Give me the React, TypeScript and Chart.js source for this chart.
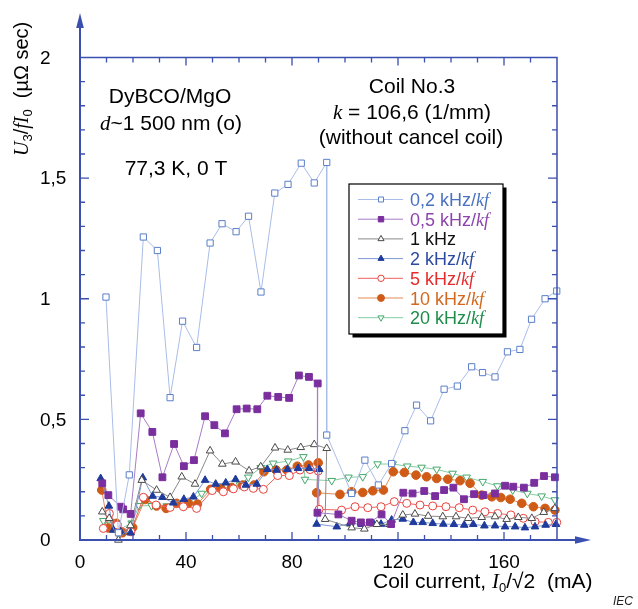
import React, { useEffect, useRef } from 'react';
import { Chart, registerables } from 'chart.js';
import { drawPoint } from 'chart.js/helpers';

Chart.register(...registerables);

// ---------------- data (x: coil current mA, y: U3/fI0 µΩ·s) ----------------
const s02kHz: [number, number][] = [
  [9.8, 1.007], [14.5, 0.03], [18.6, 0.27], [23.9, 1.256], [29.2, 1.2], [34, 0.59], [38.7, 0.907],
  [44, 0.798], [49.1, 1.231], [53.6, 1.311], [58.9, 1.278], [63.6, 1.342], [68.3, 1.028], [73.5, 1.438],
  [78.5, 1.474], [83.5, 1.562], [88.4, 1.48], [93.1, 1.565], [93.1, 0.435], [102.5, 0.193], [107.5, 0.331],
  [112.6, 0.228], [117.6, 0.317], [122.6, 0.453], [127, 0.559], [132.3, 0.494], [137.4, 0.625],
  [142.4, 0.638], [147.8, 0.718], [151.9, 0.694], [156.6, 0.676], [161.3, 0.78], [166, 0.79],
  [170.4, 0.915], [175.5, 1.0], [179.9, 1.032],
];
const s05kHz: [number, number][] = [
  [8.4, 0.235], [10.7, 0.186], [15.4, 0.138], [16.3, 0.127], [19.1, 0.108], [22.9, 0.525], [27.3, 0.448],
  [31.1, 0.26], [35.5, 0.398], [39.2, 0.306], [43, 0.331], [47.2, 0.513], [50.7, 0.476], [54.7, 0.442],
  [59.1, 0.542], [62.9, 0.545], [66.9, 0.542], [70.7, 0.598], [74.8, 0.593], [78.9, 0.589], [82.6, 0.682],
  [86.4, 0.676], [89.7, 0.649], [89.6, 0.113], [97.5, 0.106], [102.5, 0.08], [106, 0.073], [109.4, 0.073],
  [113.8, 0.106], [117.4, 0.066], [122, 0.196], [125.5, 0.193], [129.9, 0.203], [134, 0.182],
  [137.4, 0.207], [140.9, 0.217], [144.9, 0.169], [148.7, 0.19], [152.2, 0.186], [156.6, 0.193],
  [160.4, 0.225], [163.5, 0.221], [167.5, 0.217], [171.4, 0.237], [175.1, 0.265], [179.2, 0.26],
];
const s1kHz: [number, number][] = [
  [8.4, 0.117], [11, 0.09], [14.5, 0.0], [19, 0.06], [23.3, 0.248], [28.9, 0.207], [34, 0.177],
  [38.4, 0.262], [43.4, 0.232], [49.1, 0.37], [53.7, 0.315], [58.7, 0.324], [63.8, 0.287], [68.2, 0.304],
  [73.6, 0.382], [78.4, 0.373], [83.3, 0.384], [88.4, 0.396], [93.1, 0.38], [92.5, 0.086], [102.5, 0.051],
  [107.3, 0.046], [112, 0.065], [116.7, 0.065], [121.8, 0.104], [126.4, 0.108], [131.4, 0.099],
  [136.9, 0.097], [141.9, 0.097], [146.5, 0.09], [151.6, 0.094], [156.6, 0.097], [161, 0.086],
  [165.4, 0.094], [170.5, 0.09], [175, 0.115], [179.2, 0.131],
];
const s2kHz: [number, number][] = [
  [7.8, 0.255], [10.9, 0.141], [12.6, 0.041], [15.4, 0.034], [19.1, 0.03], [23.7, 0.258], [27.4, 0.182],
  [31.1, 0.177], [35.2, 0.154], [39.2, 0.169], [42.8, 0.179], [47.2, 0.248], [51.2, 0.232], [55, 0.237],
  [58.7, 0.251], [62.6, 0.228], [66.7, 0.232], [70.7, 0.293], [74.2, 0.29], [78.3, 0.293], [82.3, 0.297],
  [86.4, 0.297], [90.3, 0.293], [89.3, 0.066], [96.9, 0.055], [101.9, 0.069], [106.3, 0.065],
  [110.7, 0.069], [113.6, 0.066], [117.6, 0.083], [121.8, 0.087], [125.8, 0.073], [129.3, 0.073],
  [133.1, 0.069], [137.1, 0.066], [141.1, 0.065], [145, 0.062], [148.4, 0.065], [152.6, 0.059],
  [156.6, 0.059], [160.4, 0.055], [164.2, 0.055], [167.9, 0.051], [171.7, 0.055], [175.7, 0.062],
  [179.6, 0.065],
];
const s5kHz: [number, number][] = [
  [8.8, 0.048], [11.1, 0.11], [14.1, 0.062], [19.2, 0.034], [23.9, 0.177], [28.7, 0.145], [34, 0.135],
  [39, 0.138], [44, 0.131], [49.9, 0.205], [54.1, 0.2], [57.9, 0.212], [62, 0.22], [65.4, 0.214],
  [69.2, 0.21], [74.6, 0.267], [79, 0.267], [83, 0.29], [86.8, 0.292], [89.9, 0.286], [90.2, 0.127],
  [98.7, 0.124], [103.8, 0.138], [108.6, 0.134], [113.6, 0.138], [118.6, 0.159], [123.3, 0.152],
  [128.3, 0.145], [133.1, 0.141], [138.1, 0.138], [143.1, 0.134], [148.2, 0.124], [152.8, 0.117],
  [157.6, 0.11], [162.6, 0.104], [167.3, 0.09], [171.7, 0.076], [176.7, 0.073], [179.9, 0.073],
];
const s10kHz: [number, number][] = [
  [8.2, 0.207], [10.7, 0.05], [13.8, 0.069], [16, 0.03], [19.9, 0.052], [24.6, 0.168], [28.9, 0.141],
  [32.5, 0.131], [36.5, 0.152], [40.9, 0.152], [44.3, 0.149], [49.3, 0.21], [53.1, 0.214], [57.2, 0.218],
  [61.4, 0.228], [65.7, 0.228], [69.4, 0.283], [74, 0.29], [78, 0.29], [82, 0.306], [86.2, 0.311],
  [89.9, 0.32], [89.3, 0.196], [98.1, 0.189], [102.5, 0.2], [106.7, 0.197], [110.5, 0.204],
  [114.5, 0.207], [118.2, 0.283], [122.4, 0.28], [126.8, 0.269], [130.8, 0.262], [134.6, 0.255],
  [138.8, 0.252], [143.4, 0.246], [147.2, 0.235], [151.6, 0.186], [155.4, 0.179], [158.8, 0.176],
  [162.3, 0.169], [166.7, 0.152], [171.1, 0.138], [175.5, 0.131], [179.2, 0.124],
];
const s20kHz: [number, number][] = [
  [8.8, 0.08], [11.5, 0.065], [14.2, 0.04], [19.5, 0.07], [22.3, 0.142], [27, 0.142], [32.7, 0.141],
  [39, 0.138], [45.9, 0.193], [50.6, 0.21], [55.3, 0.224], [60.4, 0.228], [63.5, 0.26], [68.2, 0.3],
  [72.9, 0.318], [78.6, 0.327], [84.3, 0.345], [84.9, 0.251], [95, 0.246], [101.3, 0.26], [106.7, 0.262],
  [112.3, 0.315], [118, 0.315], [123.5, 0.306], [128.9, 0.301], [134.6, 0.293], [140.6, 0.276],
  [145.9, 0.26], [152, 0.242], [157.5, 0.224], [163.3, 0.207], [168.8, 0.193], [174.2, 0.182],
  [179.2, 0.166],
];

const seriesNames = ['0,2 kHz/', '0,5 kHz/', '1 kHz', '2 kHz/', '5 kHz/', '10 kHz/', '20 kHz/'];
const seriesSuffix = ['kf', 'kf', '', 'kf', 'kf', 'kf', 'kf'];

const xTickValues = [0, 40, 80, 120, 160];
const xTickLabels = ['0', '40', '80', '120', '160'];
const yTickValues = [0, 0.5, 1, 1.5, 2];
const yTickLabels = ['0', '0,5', '1', '1,5', '2'];

// ---------------- styles ----------------
const SANS = '"Liberation Sans", Arial, sans-serif';
const SERIF = '"Liberation Serif", "Times New Roman", serif';
const AXIS = '#3b4fae';

type Style = {
  line: string; border: string; fill: string; text: string;
  pointStyle: string; radius: number; rotation: number;
};
const styles: Style[] = [
  { line: '#a9bde9', border: '#5b7fc9', fill: '#ffffff', text: '#4a72c0', pointStyle: 'rect', radius: 4.4, rotation: 0 },
  { line: '#a77cc6', border: '#7b2f9e', fill: '#7b2f9e', text: '#8e44ad', pointStyle: 'rect', radius: 4.8, rotation: 0 },
  { line: '#8a8a8a', border: '#4a4a4a', fill: '#ffffff', text: '#111111', pointStyle: 'triangle', radius: 4.4, rotation: 0 },
  { line: '#7f98d6', border: '#1f3b9b', fill: '#1f3b9b', text: '#2c4aa0', pointStyle: 'triangle', radius: 4.4, rotation: 0 },
  { line: '#ef6060', border: '#e8413c', fill: '#ffffff', text: '#e52b2b', pointStyle: 'circle', radius: 4, rotation: 0 },
  { line: '#e08a55', border: '#cf5b17', fill: '#cf5b17', text: '#d2691e', pointStyle: 'circle', radius: 4.3, rotation: 0 },
  { line: '#86cca4', border: '#45a86c', fill: '#ffffff', text: '#1e8c4a', pointStyle: 'triangle', radius: 4.4, rotation: 180 },
];

const allSeries = [s02kHz, s05kHz, s1kHz, s2kHz, s5kHz, s10kHz, s20kHz];

type Seg = { t: string; f: string; dy?: number; c?: string };
function rich(ctx: CanvasRenderingContext2D, segs: Seg[], x: number, y: number, align: 'left' | 'center') {
  ctx.save();
  ctx.textBaseline = 'alphabetic';
  ctx.textAlign = 'left';
  let w = 0;
  for (const s of segs) { ctx.font = s.f; w += ctx.measureText(s.t).width; }
  let cx = align === 'center' ? x - w / 2 : x;
  for (const s of segs) {
    ctx.font = s.f;
    ctx.fillStyle = s.c || '#000';
    ctx.fillText(s.t, cx, y + (s.dy || 0));
    cx += ctx.measureText(s.t).width;
  }
  ctx.restore();
}

const decor = {
  id: 'decor',
  afterDraw(chart: any) {
    const ctx: CanvasRenderingContext2D = chart.ctx;
    const xs = chart.scales.x;
    const ys = chart.scales.y;
    const L = xs.getPixelForValue(0);
    const R = xs.getPixelForValue(180);
    const B = ys.getPixelForValue(0);
    const T = ys.getPixelForValue(2);
    ctx.save();
    ctx.strokeStyle = AXIS;
    ctx.fillStyle = AXIS;
    // top & right border
    ctx.lineWidth = 1.5;
    ctx.beginPath();
    ctx.moveTo(L, T); ctx.lineTo(R, T); ctx.lineTo(R, B);
    ctx.stroke();
    // main axes
    ctx.lineWidth = 2;
    ctx.beginPath();
    ctx.moveTo(L, 27); ctx.lineTo(L, B); ctx.lineTo(576, B);
    ctx.stroke();
    ctx.beginPath();
    ctx.moveTo(L, 13); ctx.lineTo(L - 3.8, 28); ctx.lineTo(L + 3.8, 28); ctx.closePath(); ctx.fill();
    ctx.beginPath();
    ctx.moveTo(591, B); ctx.lineTo(575, B - 3.8); ctx.lineTo(575, B + 3.8); ctx.closePath(); ctx.fill();
    // ticks
    ctx.lineWidth = 1.3;
    ctx.beginPath();
    for (let i = 1; i < 20; i++) {
      const v = i / 10;
      const py = ys.getPixelForValue(v);
      const len = i % 5 === 0 ? 9 : 5;
      ctx.moveTo(L, py); ctx.lineTo(L + len, py);
      ctx.moveTo(R, py); ctx.lineTo(R - len, py);
    }
    for (let v = 10; v < 180; v += 10) {
      const px = xs.getPixelForValue(v);
      const len = v % 40 === 0 ? 8 : 5;
      ctx.moveTo(px, B); ctx.lineTo(px, B - len);
      ctx.moveTo(px, T); ctx.lineTo(px, T + len);
    }
    ctx.stroke();
    ctx.restore();

    // tick labels
    ctx.save();
    ctx.fillStyle = '#000';
    ctx.font = `19px ${SANS}`;
    ctx.textAlign = 'left';
    ctx.textBaseline = 'middle';
    yTickValues.forEach((v, i) => {
      ctx.fillText(yTickLabels[i], 40, ys.getPixelForValue(v) + 1);
    });
    ctx.textAlign = 'center';
    ctx.textBaseline = 'alphabetic';
    xTickValues.forEach((v, i) => {
      ctx.fillText(xTickLabels[i], xs.getPixelForValue(v), 568);
    });
    ctx.restore();

    // axis titles
    const F20 = `20px ${SANS}`;
    const I20 = `italic 20px ${SERIF}`;
    const F21x = `21px ${SANS}`;
    const I21x = `italic 21px ${SERIF}`;
    const SUB = `13px ${SANS}`;
    rich(ctx, [
      { t: 'Coil current, ', f: F21x },
      { t: 'I', f: I21x },
      { t: '0', f: SUB, dy: 4 },
      { t: '/\u221A2  (mA)', f: F21x },
    ], 373, 588, 'left');

    ctx.save();
    ctx.translate(28, 156);
    ctx.rotate(-Math.PI / 2);
    rich(ctx, [
      { t: 'U', f: I20 },
      { t: '3', f: SUB, dy: 4 },
      { t: '/', f: F20 },
      { t: 'fI', f: I20 },
      { t: '0', f: SUB, dy: 4 },
      { t: '  (\u00B5\u03A9 sec)', f: F20 },
    ], 0, 0, 'left');
    ctx.restore();

    // annotations
    const F21 = `21px ${SANS}`;
    const I21 = `italic 21px ${SERIF}`;
    rich(ctx, [{ t: 'DyBCO/MgO', f: F21 }], 170, 103, 'center');
    rich(ctx, [{ t: 'd', f: I21 }, { t: '~1 500 nm (o)', f: F21 }], 171, 130, 'center');
    rich(ctx, [{ t: '77,3 K, 0 T', f: F21 }], 176, 175, 'center');
    rich(ctx, [{ t: 'Coil No.3', f: F21 }], 412, 93, 'center');
    rich(ctx, [{ t: 'k', f: I21 }, { t: ' = 106,6 (1/mm)', f: F21 }], 412, 119, 'center');
    rich(ctx, [{ t: '(without cancel coil)', f: F21 }], 411, 144, 'center');

    // IEC mark
    ctx.save();
    ctx.font = `italic 12px ${SANS}`;
    ctx.fillStyle = '#222';
    ctx.textAlign = 'left';
    ctx.fillText('IEC', 613, 605);
    ctx.restore();

    // legend
    const bx = 349, by = 184, bw = 154, bh = 150;
    ctx.save();
    ctx.fillStyle = '#000';
    ctx.fillRect(bx + 3.5, by + 3.5, bw, bh);
    ctx.fillStyle = '#fff';
    ctx.fillRect(bx, by, bw, bh);
    ctx.strokeStyle = '#000';
    ctx.lineWidth = 1.2;
    ctx.strokeRect(bx, by, bw, bh);
    const F18 = `18px ${SANS}`;
    const I18 = `italic 18px ${SERIF}`;
    seriesNames.forEach((name, i) => {
      const st = styles[i];
      const ry = 199.5 + i * 19.7;
      ctx.strokeStyle = st.line;
      ctx.lineWidth = 1;
      ctx.beginPath();
      ctx.moveTo(358, ry); ctx.lineTo(403, ry);
      ctx.stroke();
      ctx.fillStyle = st.fill;
      ctx.strokeStyle = st.border;
      drawPoint(ctx, { pointStyle: st.pointStyle as any, rotation: st.rotation, radius: st.radius * 0.8, borderWidth: 1 }, 381, ry);
      const segs: Seg[] = [{ t: name, f: F18, c: st.text }];
      if (seriesSuffix[i]) segs.push({ t: seriesSuffix[i], f: I18, c: st.text });
      rich(ctx, segs, 410, ry + 6.5, 'left');
    });
    ctx.restore();
  },
};

export default function App() {
  const ref = useRef<HTMLCanvasElement | null>(null);
  useEffect(() => {
    document.body.style.margin = '0';
    const canvas = ref.current;
    if (!canvas) return;
    const datasets = allSeries.map((s, i) => {
      const st = styles[i];
      return {
        label: seriesNames[i] + seriesSuffix[i],
        data: s.map(([x, y]) => ({ x, y })),
        showLine: true,
        borderColor: st.line,
        borderWidth: 1,
        pointStyle: st.pointStyle as any,
        pointRotation: st.rotation,
        pointRadius: st.radius,
        pointBorderColor: st.border,
        pointBackgroundColor: st.fill,
        pointBorderWidth: 1,
        tension: 0,
        clip: false as any,
      };
    });
    const chart = new Chart(canvas, {
      type: 'scatter',
      data: { datasets },
      options: {
        responsive: false,
        maintainAspectRatio: false,
        animation: false,
        layout: { padding: { left: 80, right: 81, top: 57.5, bottom: 69 } },
        plugins: { legend: { display: false }, tooltip: { enabled: false } },
        scales: {
          x: { type: 'linear', min: 0, max: 180, display: false },
          y: { type: 'linear', min: 0, max: 2, display: false },
        },
      },
      plugins: [decor],
    });
    return () => chart.destroy();
  }, []);
  return (
    <div style={{ width: 638, height: 609, background: '#fff' }}>
      <canvas ref={ref} width={638} height={609} style={{ display: 'block', width: 638, height: 609 }} />
    </div>
  );
}
